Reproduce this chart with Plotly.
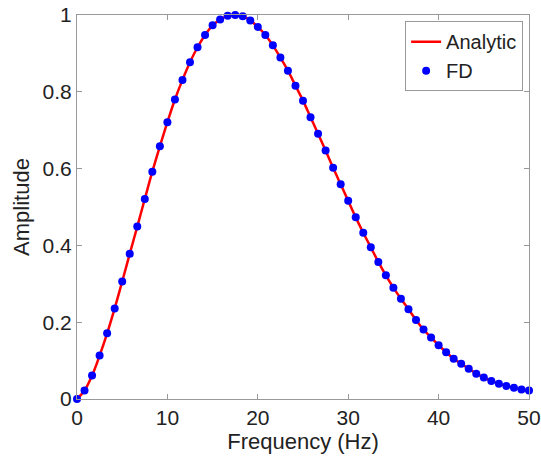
import plotly.graph_objects as go

freq = [i * 50 / 60 for i in range(61)]
amplitude_fd = [0.0, 0.022, 0.061, 0.113, 0.171, 0.236, 0.306, 0.378, 0.449, 0.521,
                0.592, 0.658, 0.721, 0.780, 0.831, 0.877, 0.916, 0.948, 0.973, 0.988,
                0.998, 1.0, 0.997, 0.986, 0.969, 0.948, 0.921, 0.889, 0.855, 0.816,
                0.777, 0.734, 0.691, 0.647, 0.602, 0.559, 0.516, 0.473, 0.433, 0.395,
                0.357, 0.322, 0.290, 0.261, 0.234, 0.206, 0.181, 0.160, 0.140, 0.122,
                0.105, 0.092, 0.079, 0.066, 0.056, 0.047, 0.040, 0.034, 0.029, 0.025,
                0.022]
amplitude_analytic = list(amplitude_fd)
x_ticks = [0, 10, 20, 30, 40, 50]
y_ticks = [0, 0.2, 0.4, 0.6, 0.8, 1]
y_tick_text = ["0", "0.2", "0.4", "0.6", "0.8", "1"]

fig = go.Figure()
fig.add_trace(go.Scatter(x=freq, y=amplitude_analytic, mode="lines", name="Analytic",
                         line=dict(color="#ff0000", width=2.5, shape="spline"),
                         cliponaxis=False))
fig.add_trace(go.Scatter(x=freq, y=amplitude_fd, mode="markers", name="FD",
                         marker=dict(color="#0000ff", size=8), cliponaxis=False))

axis_common = dict(showgrid=False, zeroline=False, showline=True, linecolor="#999999",
                   linewidth=1, mirror="ticks", ticks="inside", ticklen=5,
                   tickcolor="#999999", automargin=False,
                   tickfont=dict(family="Liberation Sans", size=21, color="#222"))

fig.update_layout(
    width=541, height=464,
    margin=dict(l=77, r=12, t=15, b=65),
    paper_bgcolor="white", plot_bgcolor="white",
    font=dict(family="Liberation Sans", color="#222"),
    xaxis=dict(range=[0, 50], tickvals=x_ticks, **axis_common,
               title=dict(text="Frequency (Hz)", font=dict(size=22, color="#222"), standoff=4)),
    yaxis=dict(range=[0, 1], tickvals=y_ticks, ticktext=y_tick_text, **axis_common,
               title=dict(text="Amplitude", font=dict(size=22, color="#222"), standoff=6)),
    legend=dict(x=0.987, y=0.984, xanchor="right", yanchor="top",
                bgcolor="white", bordercolor="#999999", borderwidth=1,
                font=dict(family="Liberation Sans", size=20, color="#222"),
                tracegroupgap=0, itemwidth=30),
    showlegend=True,
)

fig.write_html("out.html")
